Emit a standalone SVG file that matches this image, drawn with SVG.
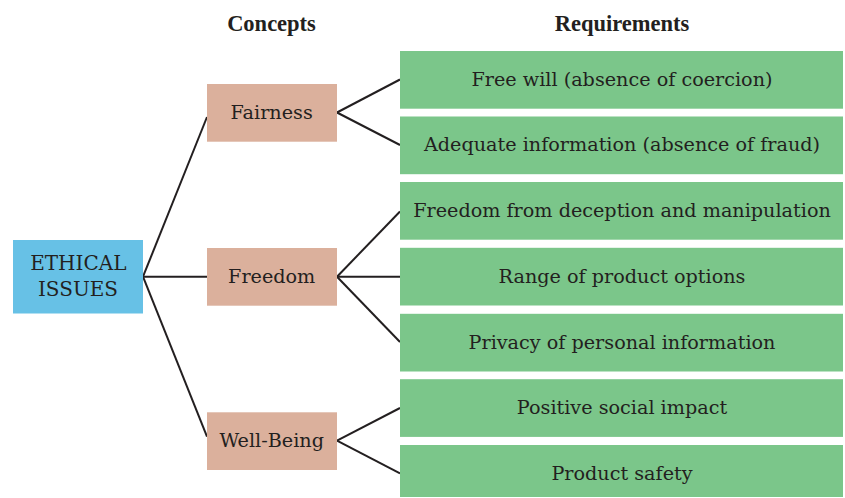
<svg xmlns="http://www.w3.org/2000/svg" width="845" height="498" viewBox="0 0 845 498">
<style>
.req rect{fill:#7BC68A}
.con rect{fill:#DBB09C}
.root rect{fill:#67C1E6}
text{font-family:"DejaVu Serif","Liberation Serif",serif;fill:#231F20;text-anchor:middle}
.t{font-size:19.2px}
.h{font-family:"Liberation Serif","DejaVu Serif",serif;font-size:22.5px;font-weight:bold}
.s{font-size:20px}
#connectors line{stroke:#231F20;stroke-width:2;fill:none}
</style>
<rect width="845" height="498" fill="#fff"/>
<text class="h" x="271.5" y="30.5">Concepts</text>
<text class="h" x="622" y="30.5">Requirements</text>
<g id="connectors">
<line x1="143" y1="276.7" x2="207" y2="117"/>
<line x1="143" y1="276.7" x2="207" y2="276.7"/>
<line x1="143" y1="276.7" x2="207" y2="436.7"/>
<line x1="337" y1="112.5" x2="400" y2="79.5"/>
<line x1="337" y1="112.5" x2="400" y2="145"/>
<line x1="337" y1="276.7" x2="400" y2="211.5"/>
<line x1="337" y1="276.7" x2="400" y2="276.7"/>
<line x1="337" y1="276.7" x2="400" y2="342"/>
<line x1="337" y1="440.7" x2="400" y2="408"/>
<line x1="337" y1="440.7" x2="400" y2="473.3"/>
</g>
<g id="root" class="root"><rect x="13" y="240" width="130" height="73.5"/><text class="s" x="78.3" y="270">ETHICAL</text><text class="s" x="78" y="295.7">ISSUES</text></g>
<g id="fairness" class="con"><rect x="207" y="84" width="130" height="57.7"/><text class="t" x="271.7" y="119.2">Fairness</text></g>
<g id="freedom" class="con"><rect x="207" y="248" width="130" height="57.7"/><text class="t" x="271.7" y="283.3">Freedom</text></g>
<g id="wellbeing" class="con"><rect x="207" y="412.3" width="130" height="57.7"/><text class="t" x="271.7" y="447.3">Well-Being</text></g>
<g id="r1" class="req"><rect x="400" y="51" width="443" height="57.7"/><text class="t" x="622" y="85.8">Free will (absence of coercion)</text></g>
<g id="r2" class="req"><rect x="400" y="116.5" width="443" height="57.7"/><text class="t" x="622" y="151.3">Adequate information (absence of fraud)</text></g>
<g id="r3" class="req"><rect x="400" y="182" width="443" height="57.7"/><text class="t" x="622" y="216.8">Freedom from deception and manipulation</text></g>
<g id="r4" class="req"><rect x="400" y="247.8" width="443" height="57.7"/><text class="t" x="622" y="283.3">Range of product options</text></g>
<g id="r5" class="req"><rect x="400" y="313.8" width="443" height="57.7"/><text class="t" x="622" y="348.5">Privacy of personal information</text></g>
<g id="r6" class="req"><rect x="400" y="379.2" width="443" height="57.7"/><text class="t" x="622" y="414">Positive social impact</text></g>
<g id="r7" class="req"><rect x="400" y="445" width="443" height="52"/><text class="t" x="622" y="480">Product safety</text></g>
</svg>
